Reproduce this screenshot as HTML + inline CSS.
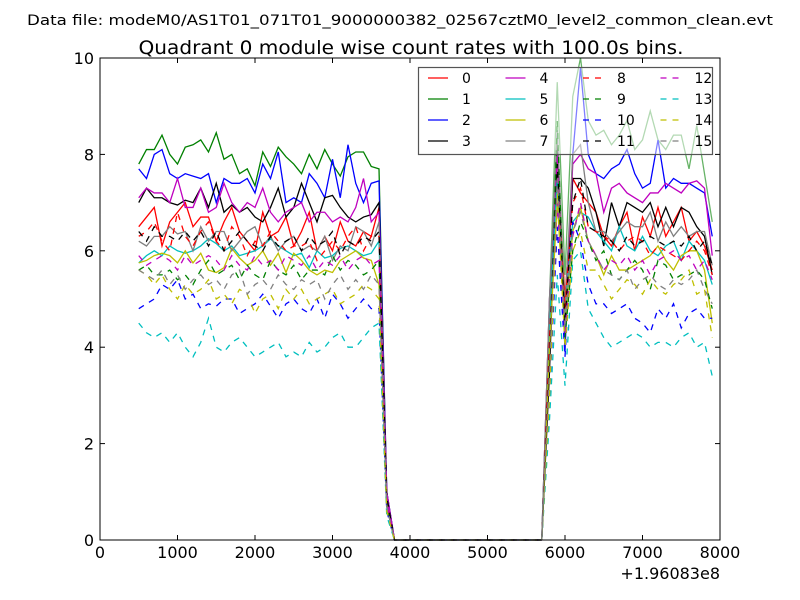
<!DOCTYPE html>
<html><head><meta charset="utf-8"><style>
body{margin:0;background:#fff;width:800px;height:600px;overflow:hidden}
svg{display:block;font-family:"DejaVu Sans","Liberation Sans",sans-serif}
</style></head><body>
<svg id="chart" width="800" height="600" xmlns="http://www.w3.org/2000/svg">
<rect width="800" height="600" fill="#fff"/>
<text x="400" y="25" text-anchor="middle" font-size="14" textLength="746" lengthAdjust="spacingAndGlyphs">Data file: modeM0/AS1T01_071T01_9000000382_02567cztM0_level2_common_clean.evt</text>
<text x="411" y="54" text-anchor="middle" font-size="19" textLength="545" lengthAdjust="spacingAndGlyphs">Quadrant 0 module wise count rates with 100.0s bins.</text>
<g id="plot"></g>
</svg>
<script>
const xTicks=[0,1000,2000,3000,4000,5000,6000,7000,8000];
const yTicks=[0,2,4,6,8,10];
const offsetLabel="+1.96083e8";
const timesA=[500,600,700,800,900,1000,1100,1200,1300,1400,1500,1600,1700,1800,1900,2000,2100,2200,2300,2400,2500,2600,2700,2800,2900,3000,3100,3200,3300,3400,3500,3600,3700];
const timesGap=[3800,5700];
const timesB=[5800,5900,6000,6100,6200,6300,6400,6500,6600,6700,6800,6900,7000,7100,7200,7300,7400,7500,7600,7700,7800,7900];
const seriesNames=["0","1","2","3","4","5","6","7","8","9","10","11","12","13","14","15"];
const s0A=[6.5,6.7,6.9,6.1,6.6,6.8,7.0,6.5,6.7,6.7,6.2,6.6,6.9,6.4,6.2,6.0,6.8,6.3,6.4,6.7,6.1,6.4,6.8,6.0,6.3,6.0,6.6,6.2,6.1,6.4,6.3,6.9,0.9];
const s0B=[4.5,8.0,5.0,7.5,7.2,7.0,6.8,6.3,6.1,6.5,6.8,6.0,6.7,6.3,6.9,6.3,6.6,6.9,6.2,6.4,6.1,5.6];
const s1A=[7.8,8.1,8.1,8.4,8.0,7.8,8.15,8.2,8.3,8.05,8.45,7.9,8.0,7.6,7.7,7.35,8.05,7.75,8.15,7.95,7.8,7.6,8.0,7.7,8.1,7.8,7.55,7.95,8.05,8.05,7.75,7.7,1.0];
const s1B=[5.0,9.5,5.5,9.2,10.0,8.7,8.4,8.5,8.2,8.4,8.7,8.1,8.3,8.9,8.3,8.1,8.4,8.4,7.7,8.6,7.6,6.6];
const s2A=[7.7,7.5,8.0,8.1,7.6,7.5,7.6,7.55,7.5,7.6,7.0,7.5,7.4,7.4,7.5,7.2,7.8,7.5,8.05,7.0,7.1,7.0,7.6,7.4,7.1,7.9,7.1,8.2,7.4,7.0,7.4,7.45,1.0];
const s2B=[4.0,8.5,3.9,8.0,9.8,8.0,7.6,7.5,7.7,7.8,8.1,7.6,7.3,7.4,8.3,7.3,7.5,7.4,7.4,7.3,7.2,6.3];
const s3A=[7.0,7.3,7.1,7.1,7.0,6.95,7.05,7.0,7.3,6.9,7.4,6.8,6.95,6.8,6.9,6.7,6.6,6.9,7.3,6.7,6.9,7.4,7.0,6.6,7.1,7.15,6.9,6.7,6.6,6.7,6.75,7.0,0.8];
const s3B=[3.5,8.2,4.5,7.5,7.5,7.3,6.8,6.1,7.0,6.5,7.0,6.9,6.8,7.0,6.5,6.9,6.5,6.9,6.8,6.5,6.3,5.5];
const s4A=[7.1,7.3,7.2,7.2,7.0,7.5,6.9,6.9,7.3,6.8,6.9,7.4,7.0,6.8,7.0,6.9,7.3,6.8,6.6,6.8,6.9,7.0,6.6,6.8,6.8,6.6,6.7,6.6,6.9,7.5,6.6,6.8,1.0];
const s4B=[5.0,8.0,4.5,7.8,8.0,7.7,7.6,6.8,7.3,7.4,7.2,7.1,7.0,7.2,7.2,7.4,7.3,7.2,7.4,7.45,7.3,5.9];
const s5A=[5.75,5.9,6.0,5.9,6.1,6.0,5.95,6.0,6.1,6.25,6.15,6.0,6.1,5.9,5.95,6.0,6.1,6.25,6.1,6.0,5.9,5.95,5.65,6.0,5.85,5.9,6.05,6.1,6.0,5.9,5.95,6.2,0.7];
const s5B=[4.5,7.5,4.7,6.6,6.8,6.7,6.4,6.2,6.0,6.5,6.1,6.0,6.3,6.0,5.9,6.1,6.2,5.8,6.2,6.0,5.8,5.3];
const s6A=[5.75,5.8,5.9,5.95,5.9,5.75,6.0,5.75,5.95,5.6,5.55,5.65,6.05,5.85,5.7,5.8,6.0,5.7,5.95,5.55,5.95,5.8,5.6,5.5,5.6,5.55,5.8,5.9,6.0,5.85,5.8,5.3,0.8];
const s6B=[4.0,7.0,4.5,6.4,6.9,6.2,5.9,5.5,5.9,5.6,5.6,5.7,5.8,5.9,6.1,5.8,5.6,5.9,6.0,6.0,5.6,4.5];
const s7A=[6.2,6.1,6.3,6.3,6.5,6.35,6.4,6.0,6.5,6.2,6.4,6.4,6.0,6.2,6.4,6.5,6.1,6.3,6.0,6.2,6.3,6.0,6.1,6.0,6.3,5.8,6.1,6.0,6.5,6.4,6.1,6.6,0.7];
const s7B=[5.0,8.5,4.8,8.0,8.2,7.0,6.4,6.4,6.2,6.4,6.6,6.5,6.5,6.8,6.2,6.6,6.3,6.5,6.3,6.4,6.4,5.7];
const s8A=[6.3,6.4,6.6,6.2,6.0,6.8,6.3,6.1,6.4,6.6,6.2,6.0,6.5,6.3,5.9,6.2,6.1,6.4,6.2,6.0,6.1,6.1,6.2,5.8,6.0,6.2,6.0,6.3,6.5,6.0,6.3,6.3,0.8];
const s8B=[4.2,7.5,4.8,7.0,7.3,6.5,6.4,6.3,6.2,6.0,6.2,6.3,6.2,5.9,6.1,6.0,5.9,5.8,6.0,6.2,6.0,5.5];
const s9A=[5.6,5.7,5.5,5.5,5.6,5.4,5.5,5.3,5.6,5.8,5.5,5.6,5.7,5.4,5.7,5.5,5.4,5.8,5.6,5.5,5.7,5.4,5.6,5.6,5.5,5.9,5.6,5.8,5.7,5.5,5.6,5.8,0.7];
const s9B=[3.5,8.7,4.2,6.0,6.6,6.2,5.8,6.0,5.5,5.4,5.6,5.8,5.6,5.2,5.8,5.7,5.4,5.5,5.5,5.6,5.4,4.8];
const s10A=[4.8,4.9,5.0,5.3,5.2,5.4,5.0,5.1,4.8,4.9,4.85,5.0,5.0,4.7,4.8,4.9,5.1,4.85,4.6,4.9,5.0,4.8,4.7,5.0,4.6,5.1,4.9,4.6,4.8,5.0,4.8,4.8,0.6];
const s10B=[3.0,6.5,3.8,6.6,6.2,5.3,4.9,4.9,4.7,4.8,4.9,4.6,4.5,4.3,4.8,4.6,4.9,4.4,4.7,4.8,4.6,4.6];
const s11A=[6.4,6.2,6.5,6.3,6.3,6.2,6.4,6.2,6.4,6.1,6.4,6.0,6.2,6.4,6.2,6.1,6.0,6.3,6.1,6.2,6.3,6.0,6.3,6.1,6.2,6.4,5.9,6.2,6.1,6.3,6.2,6.4,0.9];
const s11B=[3.8,7.8,4.5,7.0,7.5,6.5,6.4,6.3,6.2,6.0,6.3,6.1,6.2,6.3,6.2,6.1,6.2,6.1,6.3,6.0,6.2,5.7];
const s12A=[5.9,5.7,5.8,5.9,5.8,5.6,5.9,5.7,5.8,5.9,5.8,5.6,5.9,5.7,5.6,5.9,5.7,5.8,5.6,5.9,5.8,5.7,5.9,5.6,5.8,5.7,5.9,5.6,5.8,5.9,5.7,5.8,0.8];
const s12B=[3.2,7.0,4.3,6.3,7.0,6.2,5.9,5.6,5.8,5.7,5.9,5.6,5.8,5.5,5.8,5.9,6.0,5.8,5.9,5.6,5.8,5.4];
const s13A=[4.5,4.3,4.2,4.3,4.1,4.3,4.0,3.8,4.1,4.6,4.0,3.9,4.1,4.2,4.0,3.8,3.9,4.0,4.1,3.8,3.9,3.8,4.1,3.9,4.0,4.2,4.3,4.0,4.0,4.2,4.4,4.5,0.5];
const s13B=[2.5,5.5,3.2,5.8,6.0,4.8,4.5,4.2,4.0,4.1,4.2,4.3,4.2,4.0,4.1,4.1,4.0,4.2,4.3,4.0,4.1,3.4];
const s14A=[5.6,5.5,5.3,5.5,5.2,5.0,5.3,5.1,5.2,5.4,5.0,5.1,4.9,5.2,5.1,4.7,5.0,5.1,4.8,5.2,5.0,5.2,4.9,5.0,5.1,5.2,4.9,5.0,5.1,5.3,5.2,5.0,0.6];
const s14B=[3.0,7.2,4.0,6.0,6.4,5.6,5.6,5.3,5.0,5.2,5.4,5.3,5.1,5.4,5.2,5.1,5.3,5.4,5.6,5.1,5.2,4.2];
const s15A=[5.6,5.5,5.4,5.6,5.3,5.5,5.2,5.4,5.5,5.3,5.4,5.2,5.5,5.6,5.1,5.3,5.4,5.2,5.5,5.3,5.2,5.4,5.3,5.4,5.0,5.3,5.5,5.2,5.4,5.2,5.5,5.3,0.7];
const s15B=[3.6,7.5,4.4,6.4,6.8,6.2,5.9,5.6,5.5,5.4,5.6,5.2,5.4,5.5,5.3,5.2,5.4,5.3,5.4,5.6,5.2,4.9];
const segA=[s0A,s1A,s2A,s3A,s4A,s5A,s6A,s7A,s8A,s9A,s10A,s11A,s12A,s13A,s14A,s15A];
const segB=[s0B,s1B,s2B,s3B,s4B,s5B,s6B,s7B,s8B,s9B,s10B,s11B,s12B,s13B,s14B,s15B];

const colors=["#ff0000","#008000","#0000ff","#000000","#bf00bf","#00bfbf","#bfbf00","#808080"];
const opB=[1,0.6,1,1,1,1,1,1,1,1,1,1,1,1,1,1];
const L=100,R=720,T=58,B=540;
const xs=v=>L+(v-0)/(8000-0)*(R-L);
const ys=v=>B-(v-0)/(10-0)*(B-T);
const NS="http://www.w3.org/2000/svg";
const g=document.getElementById('plot');
function mk(tag,attrs,parent){const e=document.createElementNS(NS,tag);for(const k in attrs)e.setAttribute(k,attrs[k]);(parent||g).appendChild(e);return e;}

const sg=mk('g',{'clip-path':'url(#clip)'});
const cp=mk('clipPath',{id:'clip'});mk('rect',{x:L,y:T-2,width:R-L,height:B-T+3},cp);
for(let i=0;i<16;i++){
  const c=colors[i%8];const dash=i>=8?'6,6':'none';
  let ptsA=timesA.map((t,j)=>xs(t).toFixed(2)+','+ys(segA[i][j]).toFixed(2));
  ptsA.push(xs(timesGap[0]).toFixed(2)+','+ys(0).toFixed(2));
  ptsA.push(xs(timesGap[1]).toFixed(2)+','+ys(0).toFixed(2));
  const pa=mk('polyline',{points:ptsA.join(' '),fill:'none',stroke:c,'stroke-width':1.3,'stroke-dasharray':dash},sg);
  
  
  let ptsB=[xs(timesGap[1]).toFixed(2)+','+ys(0).toFixed(2)].concat(timesB.map((t,j)=>xs(t).toFixed(2)+','+ys(segB[i][j]).toFixed(2)));
  const pb=mk('polyline',{points:ptsB.join(' '),fill:'none',stroke:c,'stroke-width':1.3,'stroke-dasharray':dash,'stroke-opacity':opB[i]},sg);
  
  
}

const fr=mk('rect',{x:L,y:T,width:R-L,height:B-T,fill:'none',stroke:'#000','stroke-width':1});


xTicks.forEach(v=>{const x=xs(v);
  mk('line',{x1:x,y1:B,x2:x,y2:B-5,stroke:'#000'});mk('line',{x1:x,y1:T,x2:x,y2:T+5,stroke:'#000'});
  const t=mk('text',{x:x,y:B+18,'text-anchor':'middle','font-size':16});t.textContent=v;
  
  
});
yTicks.forEach(v=>{const y=ys(v);
  mk('line',{x1:L,y1:y,x2:L+5,y2:y,stroke:'#000'});mk('line',{x1:R,y1:y,x2:R-5,y2:y,stroke:'#000'});
  const t=mk('text',{x:L-6,y:y+6,'text-anchor':'end','font-size':16});t.textContent=v;
  
  
});
const off=mk('text',{x:R,y:B+39,'text-anchor':'end','font-size':16});off.textContent=offsetLabel;



const lg=mk('g',{});


mk('rect',{x:418.5,y:67.5,width:294,height:87,fill:'#fff','fill-opacity':0.5,stroke:'#555','stroke-width':1.2},lg);
for(let i=0;i<16;i++){
  const col=Math.floor(i/4),row=i%4;const x0=428+col*77.5,y0=78+row*21;
  const e=mk('g',{},lg);
  
  
  mk('line',{x1:x0,y1:y0,x2:x0+20,y2:y0,stroke:colors[i%8],'stroke-width':1.2,'stroke-dasharray':i>=8?'6,6':'none'},e);
  const t=mk('text',{x:x0+34,y:y0+5,'font-size':14},e);t.textContent=seriesNames[i];
}
</script>
</body></html>
